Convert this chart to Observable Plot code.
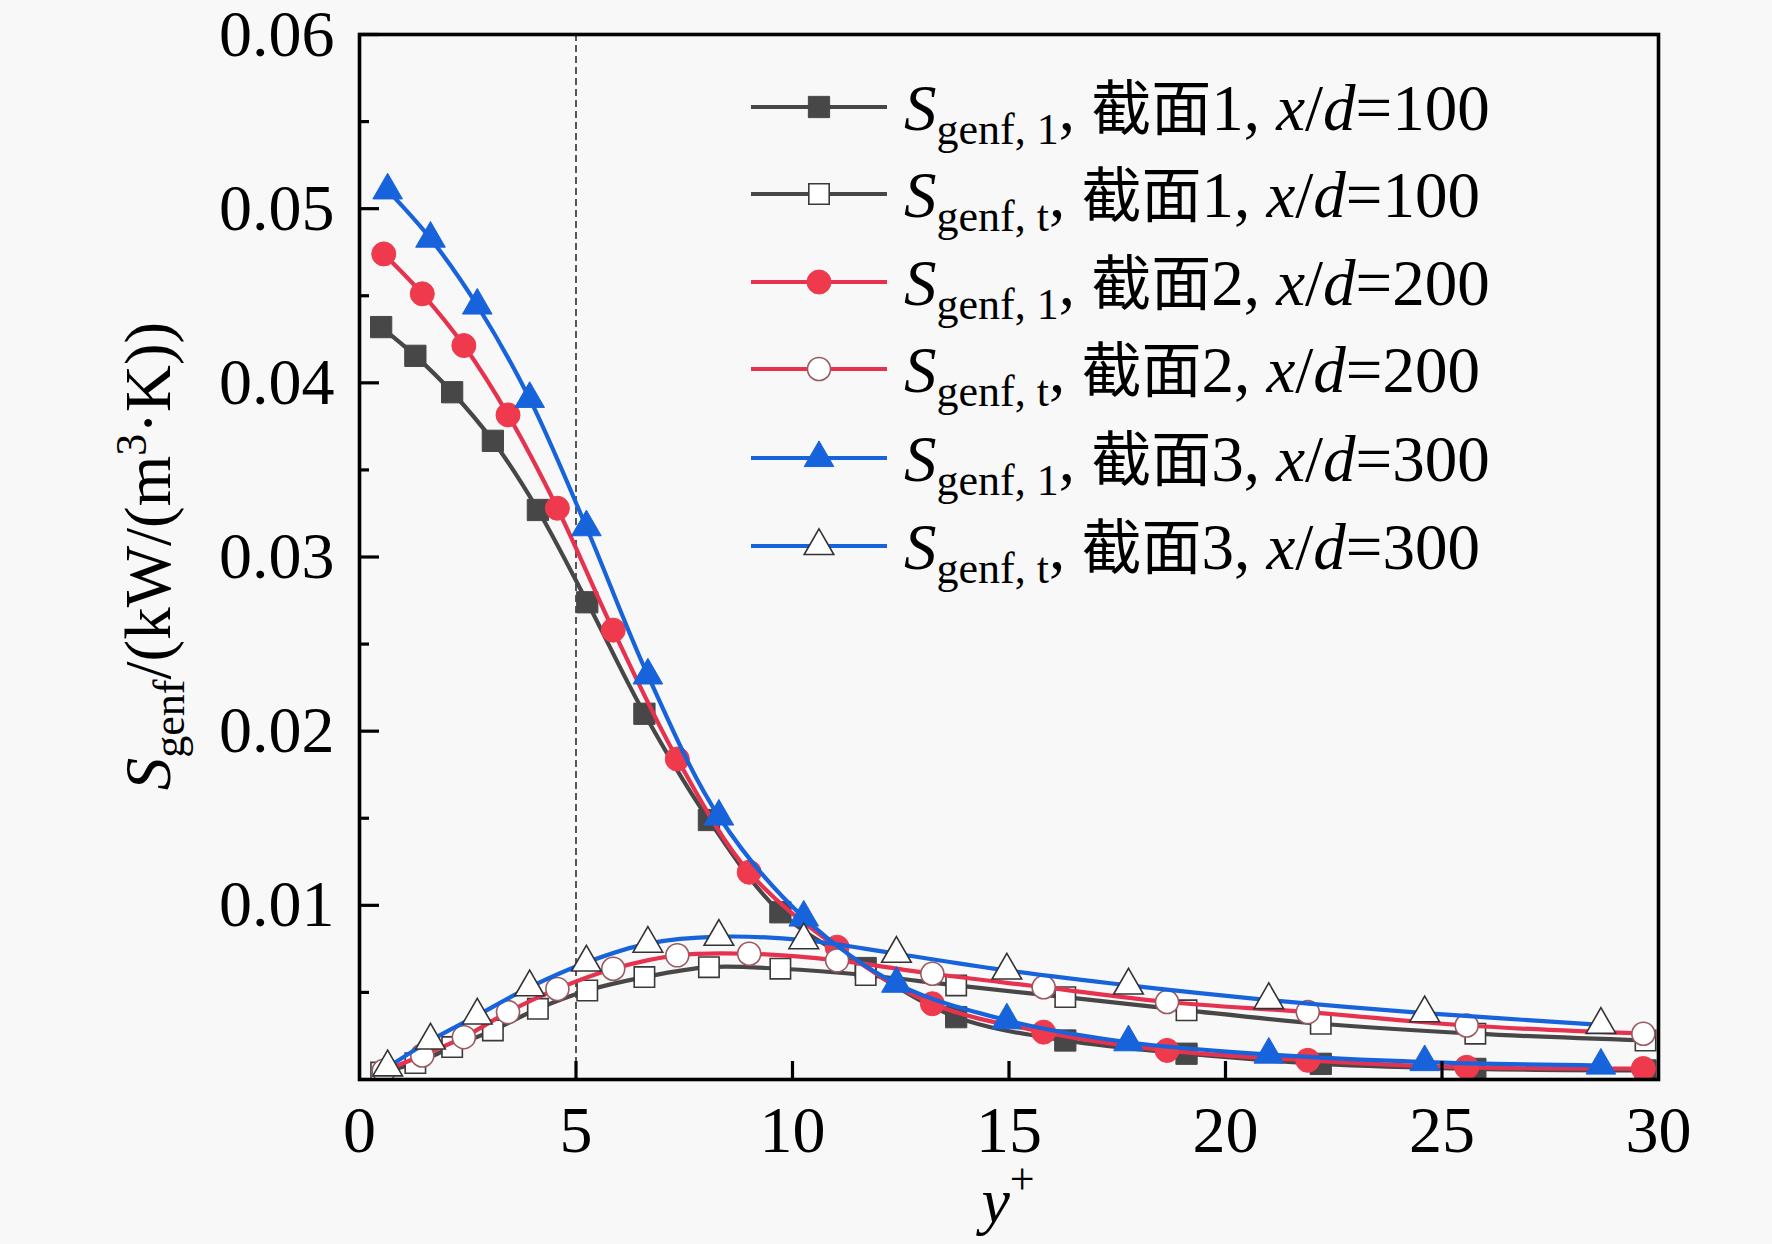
<!DOCTYPE html>
<html>
<head>
<meta charset="utf-8">
<script src="https://cdn.jsdelivr.net/npm/d3@7"></script>
<script src="https://cdn.jsdelivr.net/npm/@observablehq/plot@0.6"></script>
<style>
  html, body { margin: 0; padding: 0; background: #f8f8f8; }
  #chart svg { display: block; }
</style>
</head>
<body>
<div id="chart"></div>
<script>
// ---- data ----
const xSec1 = [0.5, 1.29, 2.14, 3.08, 4.12, 5.26, 6.58, 8.07, 9.72, 11.69, 13.78, 16.3, 19.1, 22.2, 25.77, 29.7];
const sec1Local = [0.0432, 0.04155, 0.03946, 0.03667, 0.0327, 0.0274, 0.0210, 0.0149, 0.0096, 0.0064, 0.00358, 0.00224, 0.00148, 0.0009, 0.00061, 0.00052];
const sec1Turb  = [0.0004, 0.00094, 0.00186, 0.00282, 0.00406, 0.00511, 0.00588, 0.00645, 0.00636, 0.0060, 0.0054, 0.00473, 0.00397, 0.0032, 0.00263, 0.00224];

const xSec2 = [0.56, 1.45, 2.41, 3.43, 4.57, 5.86, 7.34, 9.0, 11.03, 13.23, 15.8, 18.65, 21.9, 25.57, 29.65];
const sec2Local = [0.0474, 0.04511, 0.04214, 0.03816, 0.0328, 0.0258, 0.0184, 0.0119, 0.0076, 0.00435, 0.00272, 0.00167, 0.0011, 0.0007, 0.00063];
const sec2Turb  = [0.0005, 0.00138, 0.00243, 0.00387, 0.0052, 0.00636, 0.00713, 0.00722, 0.00684, 0.00607, 0.0053, 0.00445, 0.00387, 0.0031, 0.00263];

const xSec3 = [0.65, 1.64, 2.72, 3.93, 5.24, 6.66, 8.3, 10.26, 12.4, 14.95, 17.76, 21.0, 24.6, 28.67];
const sec3Local = [0.05105, 0.04828, 0.04444, 0.03908, 0.03171, 0.0232, 0.0151, 0.0093, 0.0055, 0.0034, 0.00214, 0.00143, 0.001, 0.0008];
const sec3Turb  = [0.0007, 0.00224, 0.00368, 0.0053, 0.00672, 0.0078, 0.0082, 0.0080, 0.00722, 0.00626, 0.0054, 0.00456, 0.00381, 0.00314];

const yMajorTicks = [0.01, 0.02, 0.03, 0.04, 0.05, 0.06];
const yMinorTicks = [0.005, 0.015, 0.025, 0.035, 0.045, 0.055];
const xTicks = [0, 5, 10, 15, 20, 25, 30];
const xInnerTicks = [5, 10, 15, 20, 25];
const refLineX = [5];

const legendSub = ["genf, 1", "genf, t", "genf, 1", "genf, t", "genf, 1", "genf, t"];
const legendSection = ["1", "1", "2", "2", "3", "3"];
const legendXd = ["100", "100", "200", "200", "300", "300"];

// ---- styles ----
const GRAY = "#474747", RED = "#ee3a4c", REDLINE = "#e6324f", BLUE = "#1763dc";
const series = [
  {key: "a", x: xSec1, y: sec1Local, line: GRAY,    symbol: "square",   fill: GRAY,   stroke: GRAY,   r: 12, sw: 1},
  {key: "b", x: xSec1, y: sec1Turb,  line: GRAY,    symbol: "square",   fill: "#fff", stroke: "#3a3a3a", r: 11.5, sw: 1.6},
  {key: "c", x: xSec2, y: sec2Local, line: REDLINE, symbol: "circle",   fill: RED,    stroke: RED,    r: 12, sw: 1},
  {key: "d", x: xSec2, y: sec2Turb,  line: REDLINE, symbol: "circle",   fill: "#fff", stroke: "#9a5a62", r: 11.5, sw: 1.6},
  {key: "e", x: xSec3, y: sec3Local, line: BLUE,    symbol: "triangle", fill: BLUE,   stroke: BLUE,   r: 11, sw: 1},
  {key: "f", x: xSec3, y: sec3Turb,  line: BLUE,    symbol: "triangle", fill: "#fff", stroke: "#333", r: 11, sw: 1.6}
];

const SERIF = "'Liberation Serif', 'Times New Roman', serif";
const CJK = "'Noto Sans CJK SC', sans-serif";

const marks = [];
marks.push(Plot.ruleX(refLineX, {stroke: "#000", strokeWidth: 1.3, strokeDasharray: "7,4"}));
for (const s of series) {
  const rows = s.x.map((xv, i) => ({yplus: xv, S: s.y[i]}));
  marks.push(Plot.line(rows, {x: "yplus", y: "S", stroke: s.line, strokeWidth: 4.2, curve: "catmull-rom", clip: true}));
  marks.push(Plot.dot(rows, {x: "yplus", y: "S", symbol: s.symbol, r: s.r, fill: s.fill, stroke: s.stroke, strokeWidth: s.sw, clip: true}));
}
// axes: labels outside, ticks inward
marks.push(Plot.axisY(yMajorTicks, {tickSize: 0, tickPadding: 25, tickFormat: d3.format(".2f"), fontSize: 66, fontFamily: SERIF, fill: "#000", label: null}));
marks.push(Plot.axisY(yMajorTicks, {tickSize: 20, dx: 20, fill: "none", stroke: "#000", strokeWidth: 3.2, label: null}));
marks.push(Plot.axisY(yMinorTicks, {tickSize: 10, dx: 10, fill: "none", stroke: "#000", strokeWidth: 3.2, label: null}));
marks.push(Plot.axisX(xTicks, {tickSize: 0, tickPadding: 26, tickFormat: d3.format("d"), fontSize: 66, fontFamily: SERIF, fill: "#000", label: null}));
marks.push(Plot.axisX(xInnerTicks, {tickSize: 18, dy: -18, fill: "none", stroke: "#000", strokeWidth: 3.2, label: null}));
marks.push(Plot.frame({stroke: "#000", strokeWidth: 3.6}));

const plot = Plot.plot({
  width: 1772,
  height: 1244,
  marginLeft: 359,
  marginRight: 114,
  marginTop: 34,
  marginBottom: 165,
  x: {domain: [0, 30]},
  y: {domain: [0, 0.06]},
  style: {background: "#f8f8f8", fontFamily: SERIF, fontSize: "66px", color: "#000"},
  marks
});
document.getElementById("chart").appendChild(plot);

// ---- rich-text axis titles and legend ----
const svg = d3.select(plot);

// y axis title
const yt = svg.append("text")
  .attr("transform", "translate(170,556) rotate(-90)")
  .attr("text-anchor", "middle")
  .attr("font-family", SERIF).attr("font-size", 65).attr("fill", "#000");
yt.append("tspan").attr("font-style", "italic").text("S");
yt.append("tspan").attr("font-size", 44).attr("dy", 14).text("genf");
yt.append("tspan").attr("dy", -14).text("/(kW/(m");
yt.append("tspan").attr("font-size", 44).attr("dy", -24).text("3");
yt.append("tspan").attr("dy", 24).text("·K))");

// x axis title
const xt = svg.append("text")
  .attr("x", 1008).attr("y", 1222)
  .attr("text-anchor", "middle")
  .attr("font-family", SERIF).attr("font-size", 64).attr("fill", "#000");
xt.append("tspan").attr("font-style", "italic").text("y");
xt.append("tspan").attr("font-size", 44).attr("dy", -28).text("+");

// legend
const legendRowY = [107, 194, 282, 369, 458, 546];
const lg = svg.append("g");
series.forEach((s, i) => {
  const cy = legendRowY[i];
  lg.append("line").attr("x1", 751).attr("x2", 887).attr("y1", cy).attr("y2", cy)
    .attr("stroke", s.line).attr("stroke-width", 4.2);
  const sym = {square: d3.symbolSquare, circle: d3.symbolCircle, triangle: d3.symbolTriangle}[s.symbol];
  lg.append("path").attr("d", d3.symbol(sym, Math.PI * s.r * s.r)())
    .attr("transform", `translate(819,${cy})`)
    .attr("fill", s.fill).attr("stroke", s.stroke).attr("stroke-width", s.sw);
  const t = lg.append("text").attr("x", 904).attr("y", cy + 23)
    .attr("text-anchor", "start")
    .attr("font-family", SERIF).attr("font-size", 65).attr("fill", "#000");
  t.append("tspan").attr("font-style", "italic").text("S");
  t.append("tspan").attr("font-size", 44).attr("dy", 14).text(legendSub[i]);
  t.append("tspan").attr("dy", -14).text(", ");
  t.append("tspan").attr("font-family", CJK).attr("font-size", 60).text("截面");
  t.append("tspan").text(legendSection[i] + ", ");
  t.append("tspan").attr("font-style", "italic").text("x");
  t.append("tspan").text("/");
  t.append("tspan").attr("font-style", "italic").text("d");
  t.append("tspan").text("=" + legendXd[i]);
});
</script>
</body>
</html>
